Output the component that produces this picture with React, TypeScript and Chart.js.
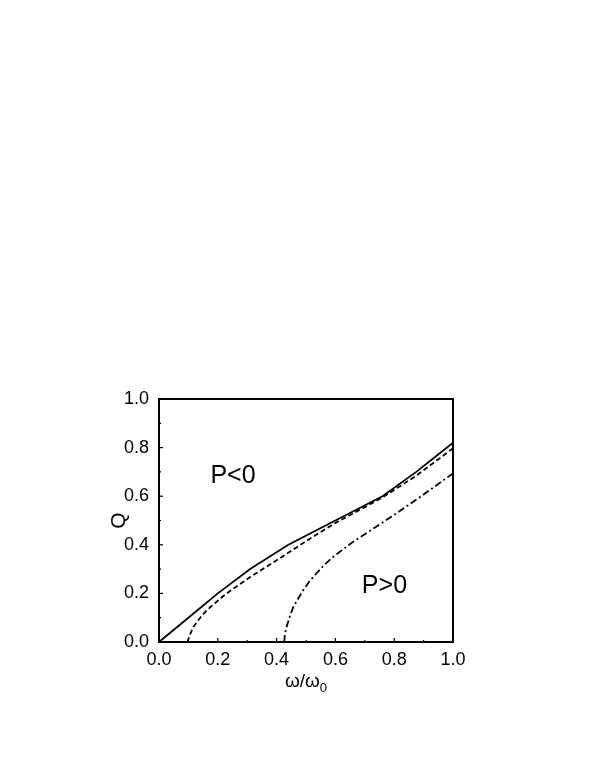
import React, { useEffect, useRef } from "react";
import { Chart, registerables } from "chart.js";

Chart.register(...registerables);

const solidX = [0, 0.1, 0.2, 0.31, 0.44, 0.6, 0.76, 0.875, 1.0];
const solidQ = [0, 0.1, 0.2, 0.3, 0.4, 0.5, 0.6, 0.7, 0.82];

const dashedX = [0.098, 0.1, 0.105, 0.117, 0.14, 0.162, 0.2, 0.23, 0.31, 0.4, 0.5, 0.6, 0.7, 0.76, 0.87, 1.0];
const dashedQ = [0, 0.012, 0.03, 0.062, 0.1, 0.13, 0.17, 0.2, 0.267, 0.336, 0.415, 0.49, 0.555, 0.595, 0.68, 0.797];

const dashDotX = [0.426, 0.428, 0.434, 0.445, 0.457, 0.475, 0.491, 0.512, 0.536, 0.563, 0.593, 0.661, 0.74, 0.814, 0.9, 1.0];
const dashDotQ = [0, 0.03, 0.063, 0.105, 0.145, 0.182, 0.214, 0.25, 0.283, 0.318, 0.351, 0.413, 0.475, 0.535, 0.607, 0.694];

const minorTicks = [0, 0.1, 0.2, 0.3, 0.4, 0.5, 0.6, 0.7, 0.8, 0.9, 1.0];
const regionLabels = ["P<0", "P>0"];
const regionPos = [
  [0.175, 0.655],
  [0.69, 0.2],
];

const FONT = "'Liberation Sans', Arial, Helvetica, sans-serif";

const toPts = (xs: number[], ys: number[]) => xs.map((x, i) => ({ x, y: ys[i] }));

const framePlugin = {
  id: "frame",
  afterDraw(chart: any) {
    const { ctx, chartArea } = chart;
    const xs = chart.scales.x;
    const ys = chart.scales.y;
    ctx.save();
    ctx.strokeStyle = "#000";
    ctx.lineWidth = 2;
    ctx.strokeRect(chartArea.left, chartArea.top, chartArea.right - chartArea.left, chartArea.bottom - chartArea.top);
    ctx.lineWidth = 1.2;
    minorTicks.forEach((v, i) => {
      const len = i % 2 === 0 ? 4 : 2;
      const px = xs.getPixelForValue(v);
      ctx.beginPath();
      ctx.moveTo(px, chartArea.bottom);
      ctx.lineTo(px, chartArea.bottom - len);
      ctx.stroke();
      const py = ys.getPixelForValue(v);
      ctx.beginPath();
      ctx.moveTo(chartArea.left, py);
      ctx.lineTo(chartArea.left + len, py);
      ctx.stroke();
    });
    ctx.fillStyle = "#000";
    // region labels
    ctx.font = `25px ${FONT}`;
    ctx.textAlign = "left";
    ctx.textBaseline = "alphabetic";
    regionLabels.forEach((t, i) => {
      ctx.fillText(t, xs.getPixelForValue(regionPos[i][0]), ys.getPixelForValue(regionPos[i][1]));
    });
    // x title
    const cx = (chartArea.left + chartArea.right) / 2;
    ctx.font = `19px ${FONT}`;
    const main = "\u03c9/\u03c9";
    const wMain = ctx.measureText(main).width;
    ctx.font = `13px ${FONT}`;
    const wSub = ctx.measureText("0").width;
    const start = cx - (wMain + wSub) / 2;
    const base = chartArea.bottom + 45;
    ctx.font = `19px ${FONT}`;
    ctx.fillText(main, start, base);
    ctx.font = `13px ${FONT}`;
    ctx.fillText("0", start + wMain, base + 5);
    // y title
    ctx.save();
    ctx.translate(chartArea.left - 40, (chartArea.top + chartArea.bottom) / 2);
    ctx.rotate(-Math.PI / 2);
    ctx.font = `21px ${FONT}`;
    ctx.textAlign = "center";
    ctx.textBaseline = "middle";
    ctx.fillText("Q", 0, 0);
    ctx.restore();
    ctx.restore();
  },
};

export default function App() {
  const ref = useRef<HTMLCanvasElement | null>(null);
  useEffect(() => {
    const canvas = ref.current;
    if (!canvas) return;
    const line = (data: any, dash: number[]) => ({
      data,
      borderColor: "#000",
      borderWidth: 1.8,
      borderDash: dash,
      pointRadius: 0,
      tension: 0,
      fill: false,
    });
    const chart = new Chart(canvas, {
      type: "line",
      data: {
        datasets: [
          line(toPts(solidX, solidQ), []),
          line(toPts(dashedX, dashedQ), [5, 3]),
          line(toPts(dashDotX, dashDotQ), [7, 3, 2, 3]),
        ],
      },
      options: {
        responsive: false,
        animation: false,
        devicePixelRatio: 1,
        layout: { padding: { left: 0, top: 399, right: 146, bottom: 74 } },
        plugins: { legend: { display: false }, tooltip: { enabled: false } },
        scales: {
          x: {
            type: "linear",
            min: 0,
            max: 1,
            grid: { display: false, drawTicks: false },
            border: { display: false },
            ticks: {
              stepSize: 0.2,
              padding: 7,
              color: "#000",
              font: { family: FONT, size: 18 },
              maxRotation: 0,
              callback: (v: any) => Number(v).toFixed(1),
            },
            afterFit: (s: any) => {
              s.height = 60;
            },
          },
          y: {
            type: "linear",
            min: 0,
            max: 1,
            grid: { display: false, drawTicks: false },
            border: { display: false },
            ticks: {
              stepSize: 0.2,
              padding: 10,
              color: "#000",
              font: { family: FONT, size: 18 },
              callback: (v: any) => Number(v).toFixed(1),
            },
            afterFit: (s: any) => {
              s.width = 159;
            },
          },
        },
      },
      plugins: [framePlugin],
    });
    return () => chart.destroy();
  }, []);
  return (
    <div style={{ position: "fixed", left: 0, top: 0, width: 599, height: 776, background: "#fff" }}>
      <canvas ref={ref} width={599} height={776} style={{ display: "block" }} />
    </div>
  );
}
